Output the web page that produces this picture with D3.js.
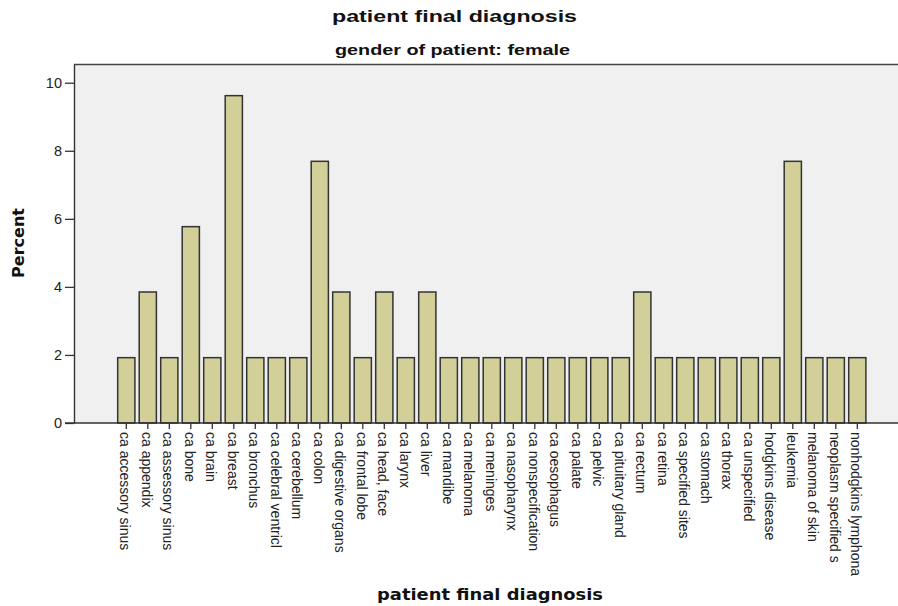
<!DOCTYPE html>
<html>
<head>
<meta charset="utf-8">
<script src="https://cdn.jsdelivr.net/npm/d3@7"></script>
<style>
    body { margin: 0; background: #fff; }
    svg { display: block; }
</style>
</head>
<body>
<div id="chart"></div>
<script>

// diagnosis categories (female patients)
let diagnoses = [
    "ca accessory sinus", "ca appendix", "ca assessory sinus", "ca bone", "ca brain",
    "ca breast", "ca bronchus", "ca celebral ventricl", "ca cerebellum", "ca colon",
    "ca digestive organs", "ca frontal lobe", "ca head, face", "ca larynx", "ca liver",
    "ca mandibe", "ca melanoma", "ca meninges", "ca nasopharynx", "ca nonspecification",
    "ca oesophagus", "ca palate", "ca pelvic", "ca pituitary gland", "ca rectum",
    "ca retina", "ca specified sites", "ca stomach", "ca thorax", "ca unspecified",
    "hodgkins disease", "leukemia", "melanoma of skin", "neoplasm specified s", "nonhodgkins lymphona"
];

// percent of female patients
let percents = [
    1.92, 3.85, 1.92, 5.77, 1.92,
    9.62, 1.92, 1.92, 1.92, 7.69,
    3.85, 1.92, 3.85, 1.92, 3.85,
    1.92, 1.92, 1.92, 1.92, 1.92,
    1.92, 1.92, 1.92, 1.92, 3.85,
    1.92, 1.92, 1.92, 1.92, 1.92,
    1.92, 7.69, 1.92, 1.92, 1.92
];

let yTicks = [0, 2, 4, 6, 8, 10];

let chartTitle = "patient final diagnosis";
let subTitle = "gender of patient: female";
let xTitle = "patient final diagnosis";
let yTitle = "Percent";

let data = diagnoses.map((d, i) => ({name: d, value: percents[i]}));

let width = 898, height = 606;
let plot = {left: 74, top: 64, right: 898, bottom: 423};

let svg = d3.select("#chart").append("svg")
    .attr("width", width)
    .attr("height", height);

// plot background
svg.append("rect")
    .attr("x", plot.left)
    .attr("y", plot.top)
    .attr("width", plot.right - plot.left)
    .attr("height", plot.bottom - plot.top)
    .attr("fill", "#f0f0f0");

svg.append("line")
    .attr("x1", plot.left).attr("x2", plot.right)
    .attr("y1", plot.top + 0.5).attr("y2", plot.top + 0.5)
    .attr("stroke", "#444").attr("stroke-width", 1.3);

// scales
let x = d3.scaleBand()
    .domain(diagnoses)
    .range([113.4, 870.2])
    .paddingInner(0.2)
    .paddingOuter(0.2);

let y = d3.scaleLinear()
    .domain([0, 10.55])
    .range([plot.bottom, plot.top]);

// bars
svg.selectAll(".bar")
    .data(data)
    .enter()
    .append("rect")
    .attr("class", "bar")
    .attr("x", d => x(d.name))
    .attr("y", d => y(d.value))
    .attr("width", x.bandwidth())
    .attr("height", d => y(0) - y(d.value))
    .attr("fill", "#d3cf98")
    .attr("stroke", "#333")
    .attr("stroke-width", 1.5);

// y axis
let yAxis = svg.append("g")
    .attr("transform", `translate(${plot.left},0)`)
    .call(d3.axisLeft(y).tickValues(yTicks).tickSize(9).tickPadding(3).tickSizeOuter(0));

yAxis.select(".domain").attr("stroke", "#333").attr("stroke-width", 1.4);
yAxis.selectAll(".tick line").attr("stroke", "#333").attr("stroke-width", 1.3);
yAxis.selectAll(".tick text")
    .attr("font-family", "Liberation Sans, Arial, sans-serif")
    .attr("font-size", 14.5)
    .attr("fill", "#222");

// x axis
let xAxis = svg.append("g")
    .attr("transform", `translate(0,${plot.bottom})`)
    .call(d3.axisBottom(x).tickSize(6).tickSizeOuter(0));

xAxis.select(".domain")
    .attr("d", `M${plot.left - 9},0H${plot.right}`)
    .attr("stroke", "#333").attr("stroke-width", 1.4);
xAxis.selectAll(".tick line").attr("stroke", "#333").attr("stroke-width", 1.3);
xAxis.selectAll(".tick text")
    .attr("font-family", "Liberation Sans, Arial, sans-serif")
    .attr("font-size", 14)
    .attr("fill", "#222")
    .attr("text-anchor", "start")
    .attr("dy", "0.35em")
    .attr("transform", "translate(-1,3) rotate(90)")
    .attr("x", 6)
    .attr("y", 0);

// titles
svg.append("text")
    .attr("x", 454.5).attr("y", 22)
    .attr("text-anchor", "middle")
    .attr("font-family", "Liberation Sans, Arial, sans-serif")
    .attr("font-weight", "bold")
    .attr("font-size", 17)
    .attr("fill", "#111")
    .attr("textLength", 245)
    .attr("lengthAdjust", "spacingAndGlyphs")
    .text(chartTitle);

svg.append("text")
    .attr("x", 452.5).attr("y", 55)
    .attr("text-anchor", "middle")
    .attr("font-family", "Liberation Sans, Arial, sans-serif")
    .attr("font-weight", "bold")
    .attr("font-size", 14)
    .attr("fill", "#111")
    .attr("textLength", 235)
    .attr("lengthAdjust", "spacingAndGlyphs")
    .text(subTitle);

svg.append("text")
    .attr("x", 490).attr("y", 600)
    .attr("text-anchor", "middle")
    .attr("font-family", "DejaVu Sans, sans-serif")
    .attr("font-weight", "bold")
    .attr("font-size", 16)
    .attr("fill", "#111")
    .attr("textLength", 226)
    .attr("lengthAdjust", "spacingAndGlyphs")
    .text(xTitle);

svg.append("text")
    .attr("transform", "translate(24,243) rotate(-90)")
    .attr("text-anchor", "middle")
    .attr("font-family", "DejaVu Sans, sans-serif")
    .attr("font-weight", "bold")
    .attr("font-size", 16)
    .attr("fill", "#111")
    .attr("textLength", 70)
    .attr("lengthAdjust", "spacingAndGlyphs")
    .text(yTitle);

</script>
</body>
</html>
